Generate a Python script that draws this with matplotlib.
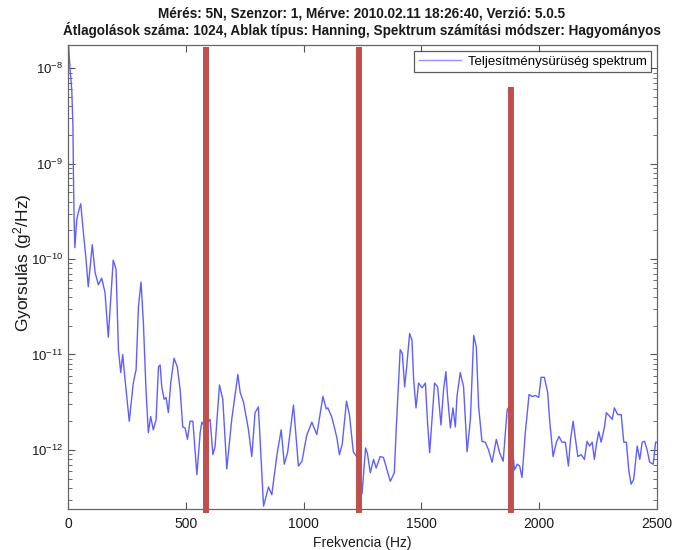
import numpy as np
import matplotlib
matplotlib.use("Agg")
import matplotlib.pyplot as plt
from matplotlib.ticker import FixedLocator, NullFormatter, LogFormatterSciNotation

plt.rcParams['font.family'] = ['Liberation Sans', 'DejaVu Sans']
plt.rcParams['mathtext.fontset'] = 'custom'
plt.rcParams['mathtext.rm'] = 'Liberation Sans'
plt.rcParams['mathtext.it'] = 'Liberation Sans:italic'
plt.rcParams['mathtext.bf'] = 'Liberation Sans:bold'

title_lines = ["Mérés: 5N, Szenzor: 1, Mérve: 2010.02.11 18:26:40, Verzió: 5.0.5",
               "Átlagolások száma: 1024, Ablak típus: Hanning, Spektrum számítási módszer: Hagyományos"]
x_label = "Frekvencia (Hz)"
y_label = "Gyorsulás (g$^2$/Hz)"
legend_label = "Teljesítménysürüség spektrum"

# frequency (Hz) and PSD exponent (log10 of g^2/Hz)
freq = [1, 8, 16, 21, 23, 26, 29, 37, 45, 54, 64, 76, 86, 103, 115, 129, 143, 157, 171, 192,
        204, 214, 224, 232, 242, 260, 277, 289, 299, 310, 320, 331, 341, 351, 362, 374, 384, 391, 398, 408,
        416, 426, 436, 450, 464, 476, 487, 497, 507, 518, 530, 547, 561, 568, 582, 596, 603, 615, 624, 643,
        657, 674, 695, 721, 731, 745, 766, 780, 794, 808, 830, 851, 865, 887, 905, 918, 932, 957, 978, 993,
        1013, 1035, 1056, 1082, 1096, 1103, 1120, 1141, 1152, 1164, 1182, 1195, 1211, 1225, 1236, 1248, 1263, 1271, 1283, 1297,
        1308, 1325, 1339, 1354, 1368, 1385, 1393, 1410, 1419, 1429, 1439, 1450, 1460, 1467, 1477, 1488, 1503, 1517, 1526, 1535,
        1545, 1556, 1569, 1583, 1594, 1604, 1611, 1623, 1634, 1644, 1651, 1665, 1679, 1694, 1708, 1722, 1733, 1743, 1757, 1771,
        1785, 1800, 1818, 1832, 1847, 1864, 1872, 1895, 1907, 1917, 1927, 1941, 1957, 1970, 1984, 1998, 2008, 2022, 2036, 2045,
        2059, 2073, 2084, 2097, 2111, 2124, 2133, 2144, 2154, 2164, 2178, 2192, 2203, 2214, 2225, 2234, 2243, 2253, 2263, 2277,
        2285, 2299, 2310, 2319, 2333, 2348, 2359, 2370, 2380, 2390, 2401, 2416, 2427, 2437, 2447, 2458, 2469, 2484, 2494, 2500]
psd_exp = [-7.70, -7.98, -8.23, -8.61, -9.10, -9.59, -9.88, -9.59, -9.50, -9.42, -9.69, -9.99, -10.29, -9.85, -10.14, -10.27, -10.20, -10.35, -10.82, -10.01,
           -10.11, -10.95, -11.19, -11.00, -11.26, -11.70, -11.30, -11.16, -10.50, -10.24, -10.67, -11.37, -11.82, -11.65, -11.79, -11.68, -11.13, -11.11, -11.34, -11.47,
           -11.45, -11.61, -11.30, -11.04, -11.13, -11.37, -11.76, -11.77, -11.89, -11.70, -11.70, -12.26, -11.82, -11.71, -11.76, -11.70, -11.68, -12.05, -11.97, -11.32,
           -11.47, -12.20, -11.68, -11.21, -11.40, -11.50, -11.79, -12.07, -11.61, -11.55, -12.59, -12.39, -12.47, -12.05, -11.79, -12.15, -12.03, -11.53, -12.17, -12.12,
           -11.85, -11.71, -11.84, -11.44, -11.57, -11.56, -11.66, -11.87, -12.05, -11.94, -11.49, -11.64, -12.02, -12.07, -12.21, -12.46, -11.98, -12.04, -12.24, -12.10,
           -12.19, -12.07, -12.08, -12.21, -12.33, -12.24, -11.79, -10.95, -10.99, -11.34, -11.09, -10.78, -10.85, -11.26, -11.56, -11.30, -11.35, -11.30, -11.71, -12.03,
           -11.68, -11.30, -11.34, -11.74, -11.37, -11.18, -11.44, -11.77, -11.56, -11.76, -11.44, -11.19, -11.34, -12.02, -11.68, -10.80, -10.92, -11.55, -11.91, -11.92,
           -12.00, -12.13, -11.89, -12.03, -12.12, -11.58, -11.55, -12.21, -12.15, -12.17, -12.29, -11.82, -11.42, -11.44, -11.43, -11.45, -11.24, -11.24, -11.40, -11.71,
           -12.07, -11.92, -11.86, -11.92, -11.92, -12.17, -11.89, -11.70, -11.89, -12.07, -12.05, -12.10, -11.91, -11.96, -11.92, -12.10, -11.94, -11.81, -11.92, -11.76,
           -11.61, -11.65, -11.68, -11.56, -11.63, -11.63, -11.92, -11.92, -12.21, -12.36, -12.31, -11.96, -12.10, -11.92, -11.91, -12.00, -12.13, -12.15, -11.92, -11.92]

# red marker bars: frequency (Hz) and top value exponent
marker_freq = [586, 1236, 1882]
marker_top_exp = [-7.78, -7.78, -8.20]
marker_bottom_exp = -12.66

x_ticks = [0, 500, 1000, 1500, 2000, 2500]
y_tick_exps = [-12, -11, -10, -9, -8]
x_lim = (0, 2500)
y_lim_exp = (-12.62, -7.756)

psd = 10.0 ** np.array(psd_exp)
y_lo, y_hi = 10.0 ** y_lim_exp[0], 10.0 ** y_lim_exp[1]
y_major = [10.0 ** e for e in y_tick_exps]
y_minor = [m * 10.0 ** e for e in range(-13, -7) for m in range(2, 10)
           if y_lo <= m * 10.0 ** e <= y_hi]

fig = plt.figure(figsize=(6.73, 5.5), dpi=100)
ax = fig.add_axes([68/673, 1 - 509/550, (657-68)/673, (509-45)/550])

ax.plot(freq, psd, color='#5f5fff', lw=1.0, label=legend_label, zorder=2)
for xf, te in zip(marker_freq, marker_top_exp):
    ax.plot([xf, xf], [10.0 ** marker_bottom_exp, 10.0 ** te], color='#c0504d',
            lw=4.3, solid_capstyle='butt', clip_on=False, zorder=3)

ax.set_yscale('log')
ax.set_xlim(*x_lim)
ax.set_ylim(y_lo, y_hi)
ax.xaxis.set_major_locator(FixedLocator(x_ticks))
ax.yaxis.set_major_locator(FixedLocator(y_major))
ax.yaxis.set_major_formatter(LogFormatterSciNotation())
ax.yaxis.set_minor_locator(FixedLocator(y_minor))
ax.yaxis.set_minor_formatter(NullFormatter())
ax.tick_params(which='both', direction='in', top=True, right=True, colors='#555555',
               labelcolor='#1a1a1a')
ax.tick_params(axis='x', labelsize=10, pad=6)
ax.tick_params(axis='y', labelsize=9.5)
ax.tick_params(which='major', length=5, width=0.8)
ax.tick_params(which='minor', length=3, width=0.6)
for s in ax.spines.values():
    s.set_color('#666666')
    s.set_linewidth(0.9)

ax.set_xlabel(x_label, fontsize=10, color='#1a1a1a', labelpad=3)
ax.set_ylabel(y_label, fontsize=12.5, color='#1a1a1a')
ax.yaxis.set_label_coords(-0.058, 0.53)

fig.text(362/673, 1 - 13/550, title_lines[0], ha='center', va='center',
         fontsize=9.8, fontweight='bold', color='#1a1a1a')
fig.text(362/673, 1 - 30/550, title_lines[1], ha='center', va='center',
         fontsize=9.75, fontweight='bold', color='#1a1a1a')

leg = ax.legend(loc='upper right', fontsize=9.5, frameon=True, fancybox=False,
                borderaxespad=0.45, handlelength=3.2, borderpad=0.35,
                handletextpad=0.5)
leg.get_frame().set_edgecolor('#333333')
leg.get_frame().set_linewidth(0.9)
leg.get_lines()[0].set_color('#9090ff')

fig.savefig('out.png', dpi=100)
